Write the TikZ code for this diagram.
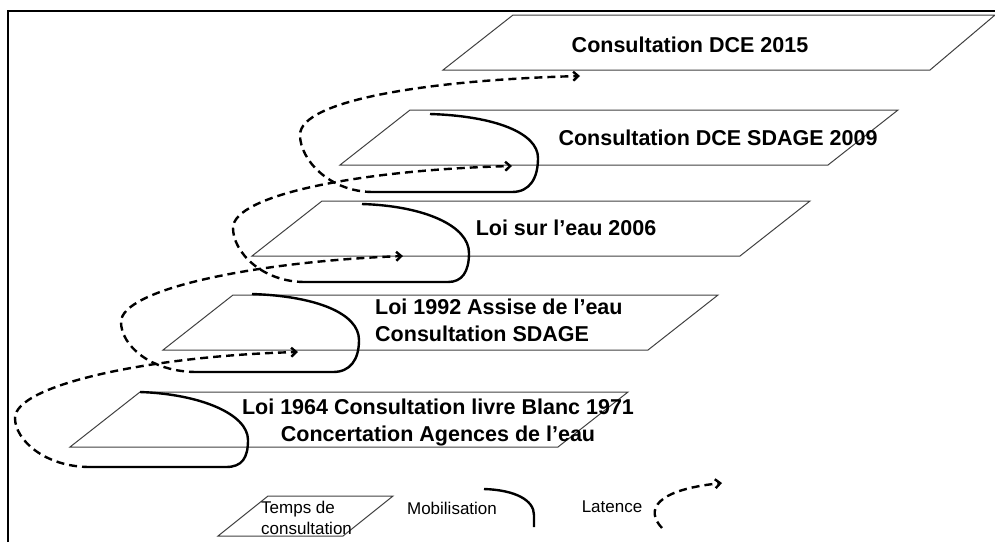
\documentclass[tikz,border=0pt]{standalone}
\usepackage{fontspec}
\setmainfont{Liberation Sans}
\usetikzlibrary{arrows.meta, positioning}

\begin{document}
\begin{tikzpicture}[
    x=1pt, y=-1pt,
    stage/.style={draw=black!75, line width=1pt},
    title/.style={font=\fontsize{21.5}{27}\selectfont\bfseries, align=center, inner sep=0pt},
    small/.style={font=\fontsize{17}{21}\selectfont, align=left, inner sep=0pt},
    mobil/.style={line width=2.4pt},
    latent/.style={line width=2.4pt, dash pattern=on 8pt off 5pt, -{Straight Barb[length=5pt, width=9pt]}}
]
\useasboundingbox (0,0) rectangle (995,542);

% frame
\draw[line width=2.2pt] (8,542) |- (995,11);

% stages
\coordinate (s1964) at (70,447);
\coordinate (s1992) at (163,350);
\coordinate (s2006) at (252,256);
\coordinate (s2009) at (340,165);
\coordinate (s2015) at (443,70);
\draw[stage] (s1964) -- ++(70,-55) -- ++(488,0) -- ++(-70,55) -- cycle;
\draw[stage] (s1992) -- ++(70,-55) -- ++(485,0) -- ++(-70,55) -- cycle;
\draw[stage] (s2006) -- ++(70,-55) -- ++(488,0) -- ++(-70,55) -- cycle;
\draw[stage] (s2009) -- ++(70,-55) -- ++(488,0) -- ++(-70,55) -- cycle;
\draw[stage] (s2015) -- ++(70,-55) -- ++(482,0) -- ++(-65,55) -- cycle;

\node[title] (l1964) at (438,422) {Loi 1964 Consultation livre Blanc 1971\\Concertation Agences de l’eau};
\node[title, align=left, anchor=west] (l1992) at (375,320) {Loi 1992 Assise de l’eau\\Consultation SDAGE};
\node[title] (l2006) at (566,228) {Loi sur l’eau 2006};
\node[title] (l2009) at (718,138) {Consultation DCE SDAGE 2009};
\node[title] (l2015) at (690,45) {Consultation DCE 2015};

% mobilisation / latence
\coordinate (m1) at (140,392);
\coordinate (r1) at (90,467);
\coordinate (a1) at (298,352);
\coordinate (m2) at (252,294);
\coordinate (r2) at (197,372);
\coordinate (a2) at (403,256);
\coordinate (m3) at (362,204);
\coordinate (r3) at (305,282);
\coordinate (a3) at (512,166);
\coordinate (m4) at (430,114);
\coordinate (r4) at (373,192);
\coordinate (a4) at (580,76);

\draw[mobil] (m1) .. controls (200,394) and (248,414) .. (248,440) .. controls (248,458) and (242,467) .. (226,467) -- (r1);
\draw[latent] (r1) .. controls (45,467) and (15,440) .. (15,418) .. controls (15,385) and (150,356) .. (a1);

\draw[mobil] (m2) .. controls (315,296) and (359,313) .. (359,340) .. controls (359,360) and (350,372) .. (333,372) -- (r2);
\draw[latent] (r2) .. controls (150,372) and (121,345) .. (121,322) .. controls (121,290) and (250,262) .. (a2);

\draw[mobil] (m3) .. controls (425,206) and (469,226) .. (469,253) .. controls (469,272) and (462,282) .. (448,282) -- (r3);
\draw[latent] (r3) .. controls (262,282) and (233,252) .. (233,228) .. controls (233,195) and (360,170) .. (a3);

\draw[mobil] (m4) .. controls (495,116) and (538,133) .. (538,158) .. controls (538,178) and (530,192) .. (512,192) -- (r4);
\draw[latent] (r4) .. controls (330,192) and (300,160) .. (300,135) .. controls (300,100) and (430,80) .. (a4);

% legend
\coordinate (legstage) at (218,536);
\draw[stage] (legstage) -- ++(50,-40) -- ++(125,0) -- ++(-50,40) -- cycle;
\node[small, anchor=west] (legtemps) at (261,518) {Temps de\\consultation};
\node[small] (legmob) at (452,508) {Mobilisation};
\node[small] (leglat) at (612,507) {Latence};

\coordinate (lm1) at (484,489);
\coordinate (lm2) at (534,527);
\coordinate (ll1) at (662,528);
\coordinate (ll2) at (722,483);
\draw[mobil] (lm1) .. controls (515,490) and (534,500) .. (534,515) -- (lm2);
\draw[latent] (ll1) .. controls (645,510) and (655,490) .. (ll2);

\end{tikzpicture}
\end{document}
